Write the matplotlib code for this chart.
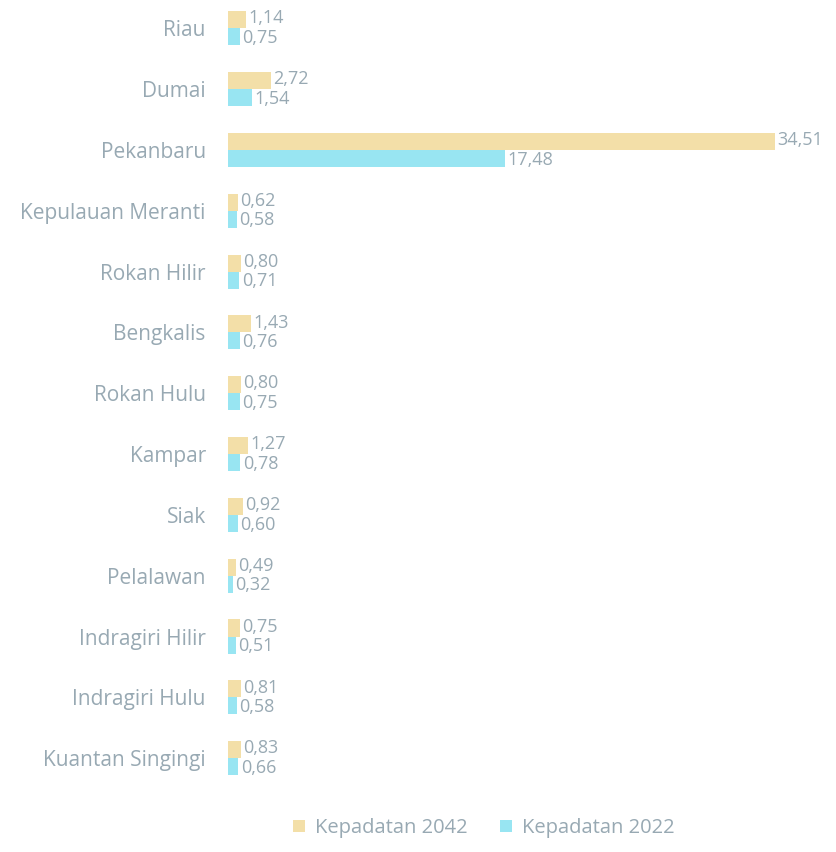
import numpy as np
import matplotlib.pyplot as plt

plt.rcParams['font.family'] = ['Open Sans', 'DejaVu Sans']

regions = ['Riau', 'Dumai', 'Pekanbaru', 'Kepulauan Meranti', 'Rokan Hilir',
           'Bengkalis', 'Rokan Hulu', 'Kampar', 'Siak', 'Pelalawan',
           'Indragiri Hilir', 'Indragiri Hulu', 'Kuantan Singingi']
dens_2042 = [1.14, 2.72, 34.51, 0.62, 0.80, 1.43, 0.80, 1.27, 0.92, 0.49, 0.75, 0.81, 0.83]
dens_2022 = [0.75, 1.54, 17.48, 0.58, 0.71, 0.76, 0.75, 0.78, 0.60, 0.32, 0.51, 0.58, 0.66]

c42 = '#F3DFA8'
c22 = '#98E5F2'
txt = '#98A9B3'

fig = plt.figure(figsize=(8.37, 8.52), dpi=100)
ax = fig.add_axes([228 / 837, 0.078, (775 - 228) / 837, 0.921])

y = np.arange(len(regions))
h = 0.28
ax.barh(y - h / 2, dens_2042, height=h, color=c42, label='Kepadatan 2042')
ax.barh(y + h / 2, dens_2022, height=h, color=c22, label='Kepadatan 2022')

for yi, v in zip(y, dens_2042):
    ax.text(v + 0.15, yi - h / 2 - 0.02, f'{v:.2f}'.replace('.', ','), va='center',
            ha='left', fontsize=13, color=txt)
for yi, v in zip(y, dens_2022):
    ax.text(v + 0.15, yi + h / 2 + 0.02, f'{v:.2f}'.replace('.', ','), va='center',
            ha='left', fontsize=13, color=txt)

ax.set_xlim(0, 34.51)
ax.set_ylim(12.45, -0.45)
ax.set_yticks(y)
ax.set_yticklabels(regions, fontsize=15, color=txt)
ax.tick_params(axis='y', length=0, pad=16)
ax.set_xticks([])
for s in ax.spines.values():
    s.set_visible(False)

fig.legend(loc='lower center', bbox_to_anchor=(0.578, -0.005), ncol=2, frameon=False,
           fontsize=14.5, labelcolor=txt, handlelength=0.6, handleheight=0.6,
           handletextpad=0.5, columnspacing=1.6)

fig.savefig('out.png', dpi=100)
